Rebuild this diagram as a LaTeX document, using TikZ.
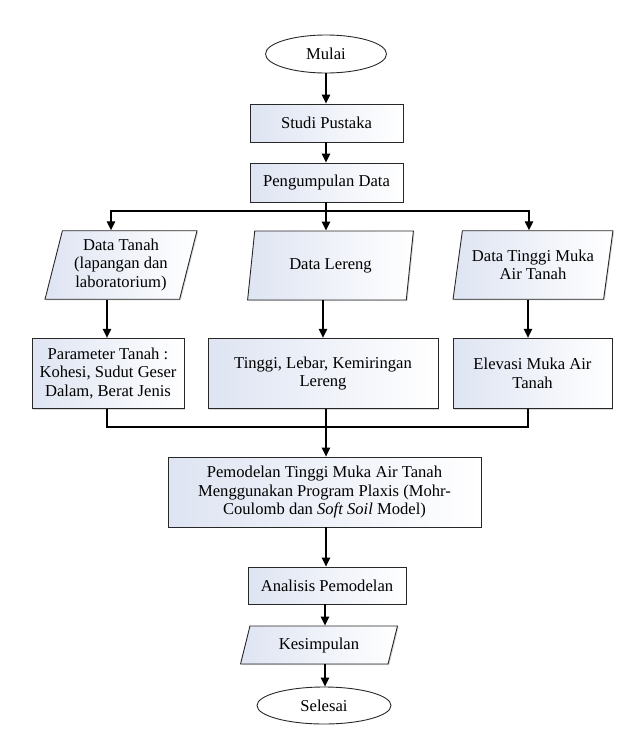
\documentclass[tikz,border=0pt]{standalone}
\usepackage{fontspec}
\setmainfont{Liberation Serif}
\newfontfamily\tnrfont{Liberation Serif}
\usetikzlibrary{shapes.geometric,arrows.meta,shadows}
\definecolor{boxL}{RGB}{222,228,242}
\definecolor{edge}{RGB}{40,40,40}
\begin{document}
\begin{tikzpicture}[x=1pt,y=-1pt,
  font=\tnrfont\fontsize{16.6}{18.4}\selectfont,
  boxnode/.style={rectangle, draw=edge, line width=0.9pt, left color=boxL, right color=white,
    align=center, inner sep=0pt, drop shadow={shadow xshift=1.2pt, shadow yshift=-1.2pt, opacity=0.3}},
  ionode/.style={trapezium, trapezium left angle=75, trapezium right angle=105, trapezium stretches=true,
    draw=edge, line width=0.9pt, left color=boxL, right color=white, align=center, inner sep=0pt,
    drop shadow={shadow xshift=1.2pt, shadow yshift=-1.2pt, opacity=0.3}},
  termnode/.style={ellipse, draw=edge, line width=0.9pt, fill=white, inner sep=0pt},
  ln/.style={draw=black, line width=1.2pt},
  arr/.style={ln, -{Triangle[length=9pt,width=8.5pt]}}
]
\useasboundingbox (0,0) rectangle (623,748);

\node[termnode, minimum width=121pt, minimum height=38pt] (mulai) at (326,54) {Mulai};
\node[boxnode, minimum width=153pt, minimum height=38pt] (studi) at (326.5,123) {Studi Pustaka};
\node[boxnode, minimum width=153pt, minimum height=39pt] (peng) at (326.5,182.5) {Pengumpulan Data};

\node[ionode, minimum width=152pt, minimum height=68.5pt] (dt) at (121,265) {Data Tanah\\(lapangan dan\\laboratorium)};
\node[ionode, minimum width=167pt, minimum height=69pt] (dl) at (330.5,265.5) {Data Lereng};
\node[ionode, minimum width=160pt, minimum height=68.5pt] (dta) at (533,265) {Data Tinggi Muka\\Air Tanah};

\node[boxnode, minimum width=152pt, minimum height=70.5pt] (param) at (108,373.5) {Parameter Tanah :\\Kohesi, Sudut Geser\\Dalam, Berat Jenis};
\node[boxnode, minimum width=230pt, minimum height=70.5pt] (tlk) at (323,373.5) {Tinggi, Lebar, Kemiringan\\Lereng};
\node[boxnode, minimum width=159pt, minimum height=70.5pt] (elev) at (532.5,373.5) {Elevasi Muka Air\\Tanah};

\node[boxnode, minimum width=313pt, minimum height=70pt] (pem) at (324.5,492) {Pemodelan Tinggi Muka Air Tanah\\Menggunakan Program Plaxis (Mohr-\\Coulomb dan \textit{Soft Soil} Model)};
\node[boxnode, minimum width=158pt, minimum height=37pt] (anal) at (327,585.5) {Analisis Pemodelan};
\node[ionode, trapezium left angle=70, trapezium right angle=110, minimum width=158pt, minimum height=38pt] (kes) at (319,645) {Kesimpulan};
\node[termnode, minimum width=134pt, minimum height=37pt] (sel) at (324,705.5) {Selesai};

\coordinate (bL) at (111,211);
\coordinate (bM) at (326,211);
\coordinate (bR) at (529,211);
\coordinate (cL) at (107,0);
\coordinate (cR) at (528,0);
\coordinate (mg) at (326,427);
\coordinate (cK) at (325,0);

\draw[arr] (mulai) -- (mulai |- studi.north);
\draw[arr] (studi.south -| mulai) -- (mulai |- peng.north);
\draw[ln] (peng.south -| bM) -- (bM);
\draw[arr] (bM) -- (bL) -- (bL |- dt.north);
\draw[arr] (bM) -- (bR) -- (bR |- dta.north);
\draw[arr] (bM) -- (bM |- dl.north);

\draw[arr] (cL |- dt.south) -- (cL |- param.north);
\draw[arr] (tlk.north |- dl.south) -- (tlk.north);
\draw[arr] (cR |- dta.south) -- (cR |- elev.north);

\draw[ln] (cL |- param.south) |- (mg);
\draw[ln] (cR |- elev.south) |- (mg);
\draw[ln] (mg |- tlk.south) -- (mg);
\draw[arr] (mg) -- (mg |- pem.north);
\draw[arr] (mg |- pem.south) -- (mg |- anal.north);
\draw[arr] (cK |- anal.south) -- (cK |- kes.north);
\draw[arr] (cK |- kes.south) -- (cK |- sel.north);
\end{tikzpicture}
\end{document}
